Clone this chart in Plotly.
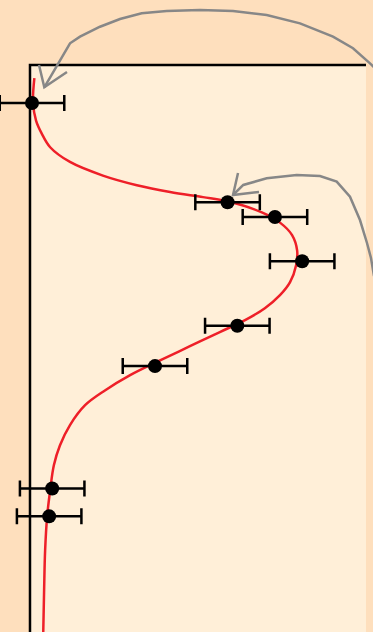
import plotly.graph_objects as go

# measured points (x = value, y = depth, axis reversed)
point_x = [0.6, 58.8, 72.9, 81.0, 61.7, 37.2, 6.6, 5.7]
point_y = [6.7, 24.2, 26.8, 34.6, 46.0, 53.1, 74.7, 79.6]
point_err = [9.6, 9.6, 9.6, 9.6, 9.6, 9.6, 9.6, 9.6]

# fitted profile
fit_x = [1.3, 0.9, 1.8, 3.5, 6.0, 11.9, 21.7, 31.8, 41.7, 51.5, 58.5, 69.0,
         74.4, 78.0, 79.5, 79.2, 77.4, 74.4, 69.9, 64.0, 56.5, 47.6, 38.7,
         29.8, 22.3, 16.4, 11.9, 8.9, 7.1, 6.0, 5.1, 4.5, 4.2, 3.9]
fit_y = [2.3, 6.6, 9.8, 12.1, 14.5, 17.1, 19.5, 21.2, 22.4, 23.3, 24.0, 26.0,
         27.8, 30.0, 32.7, 35.3, 38.3, 40.6, 42.9, 45.0, 47.1, 49.6, 52.1,
         54.7, 57.4, 60.0, 63.5, 67.1, 70.6, 75.0, 79.6, 85.6, 92.6, 101.4]

# curved gray arrows, in screen pixels
arrow1_path = [(44.3, 87.3), (70, 43.3), (80, 36.7), (100, 26.7), (120, 19),
               (141.7, 13.3), (166.7, 11), (200, 10), (233, 11), (266.7, 15),
               (300, 23.3), (333, 36.7), (353, 48.3), (370, 63.3), (376, 69)]
arrow1_head = [(39, 65), (44.3, 87.3), (67, 72)]
arrow2_path = [(233, 195), (243.3, 185), (266.7, 178.3), (296.7, 175),
               (320, 176), (336.7, 181.7), (350, 196.7), (360, 220),
               (367, 243), (371, 258), (374, 276)]
arrow2_head = [(238, 173), (233, 195), (259, 192)]

# frame of the panel, in screen pixels
box_left, box_right, box_top = 30, 366, 65

FIG_W, FIG_H = 373, 632
T = 65
PH = FIG_H - T
PX_PER_UNIT = (box_right - box_left) / 100


def to_paper(pts):
    return [(px / FIG_W, 1 - (py - T) / PH) for px, py in pts]


def svg_path(pts, close=False):
    p = to_paper(pts)
    s = "M " + " L ".join(f"{x:.4f},{y:.4f}" for x, y in p)
    return s + (" Z" if close else "")


fig = go.Figure()

fig.add_trace(go.Scatter(
    x=fit_x, y=fit_y,
    mode='lines',
    line=dict(color='#ee1f28', width=2.5, shape='spline', smoothing=1),
    hoverinfo='skip',
))

fig.add_trace(go.Scatter(
    x=point_x, y=point_y,
    mode='markers',
    marker=dict(color='black', size=14),
    error_x=dict(type='data', array=point_err, color='black',
                 thickness=2.5, width=8),
    cliponaxis=False,
))

shapes = [dict(
    type='path', xref='paper', yref='paper', layer='below',
    path=svg_path([(box_left, box_top), (box_right, box_top),
                   (box_right, FIG_H + 5), (box_left, FIG_H + 5)], close=True),
    fillcolor='#ffefd8', line=dict(width=0),
)]
shapes.append(dict(
    type='path', xref='paper', yref='paper', layer='above',
    path=svg_path([(box_left, FIG_H + 5), (box_left, box_top),
                   (box_right, box_top)]),
    line=dict(color='black', width=2.5),
))
for path in (arrow1_path, arrow1_head, arrow2_path, arrow2_head):
    shapes.append(dict(
        type='path', xref='paper', yref='paper',
        path=svg_path(path),
        line=dict(color='#878787', width=2.5),
        layer='above',
    ))

fig.update_layout(
    width=FIG_W, height=FIG_H,
    margin=dict(l=0, r=0, t=T, b=0, pad=0),
    paper_bgcolor='#fedfbd',
    plot_bgcolor='rgba(0,0,0,0)',
    showlegend=False,
    shapes=shapes,
    xaxis=dict(range=[-box_left / PX_PER_UNIT,
                      (FIG_W - box_left) / PX_PER_UNIT],
               visible=False, showgrid=False, zeroline=False),
    yaxis=dict(range=[100, 0], visible=False, showgrid=False, zeroline=False),
)

fig.write_html("out.html", config={'displayModeBar': False},
               post_script="document.body.style.margin='0px';")
